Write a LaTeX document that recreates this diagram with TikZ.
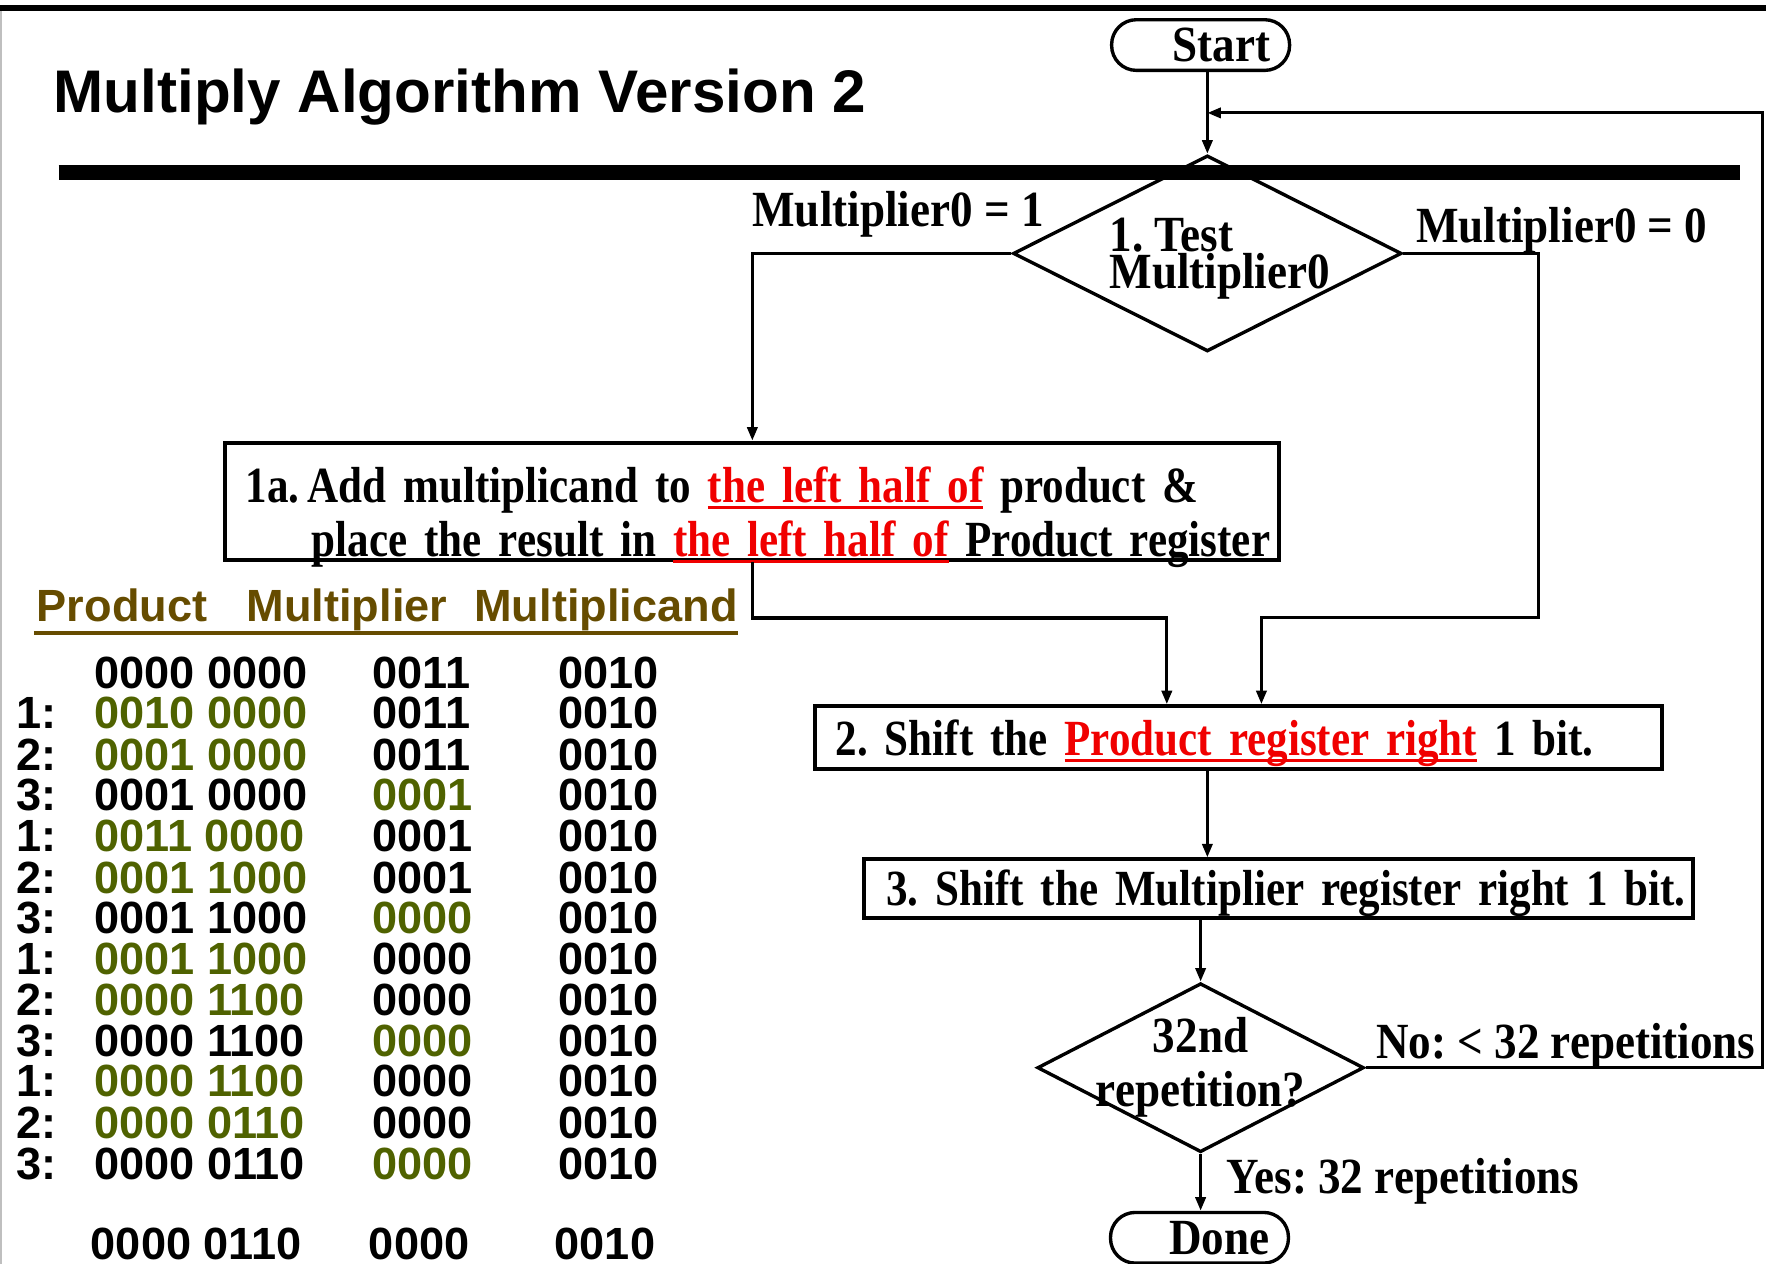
\documentclass[tikz,border=0pt]{standalone}
\usepackage{fontspec}
\setmainfont{Liberation Serif}
\newfontfamily\flowfont{Liberation Serif}[FakeStretch=0.89]
\newfontfamily\boxfont{Liberation Serif}[FakeStretch=0.85]
\newfontfamily\tabfont{Liberation Sans}
\usepackage{tikz}
\usetikzlibrary{shapes.geometric, arrows.meta, calc}
\usepackage{xcolor}
\frenchspacing

\definecolor{tabGreen}{RGB}{79,98,0}
\definecolor{hdrBrown}{RGB}{102,76,0}
\definecolor{hotRed}{RGB}{240,0,0}

\newsavebox\ulbox
\newcommand{\redul}[1]{\sbox\ulbox{#1}\textcolor{hotRed}{\rlap{\rule[-1.7pt]{\wd\ulbox}{0.85pt}}#1}}
\newcommand{\hi}[1]{\textcolor{tabGreen}{#1}}
\newcommand{\regrow}[4]{\makebox[0.69cm][l]{#1}\makebox[2.47cm][l]{#2}\makebox[1.65cm][l]{#3}#4}

\tikzset{
    font=\flowfont\bfseries\fontsize{12.8pt}{13.6pt}\selectfont,
    >={Triangle[length=0.12cm, width=0.09cm]},
    % Shapes
    term/.style={rectangle, draw, line width=0.03cm, rounded corners=0.22cm,
                 minimum height=0.45cm, text width=1.24cm, inner xsep=0.17cm, inner ysep=0pt, align=right},
    decision/.style={diamond, draw, line width=0.03cm, inner sep=0pt},
    stepbox/.style={rectangle, draw, line width=0.035cm, inner xsep=0.02cm, inner ysep=0pt, align=left,
                    font=\boxfont\bfseries\fontsize{12.8pt}{13.6pt}\selectfont},
    % Flow & Labels
    flow/.style={->, line width=0.028cm},
    lbl/.style={inner sep=0pt},
    % Table
    regfont/.style={font=\tabfont\bfseries\fontsize{11.4pt}{13pt}\selectfont},
    regline/.style={regfont, anchor=base west, inner sep=0pt}
}

\begin{document}
\begin{tikzpicture}[x=0.1mm, y=-0.1mm]
\useasboundingbox (0,0) rectangle (1568,1122);

% slide frame
\draw[line width=0.06cm] (0,7) -- (1568,7);
\draw[gray!50, line width=0.02cm] (1,10) -- (1,1122);

\node[anchor=base west, inner sep=0pt, font=\tabfont\bfseries\fontsize{15.2pt}{18pt}\selectfont] (title) at (47,100) {Multiply Algorithm Version 2};

% flowchart
\node[term] (start) at (1066,40) {Start};
\node[decision, minimum width=3.45cm, minimum height=1.74cm,
      label={[lbl, align=left, font=\flowfont\bfseries\fontsize{12.8pt}{9.4pt}\selectfont, xshift=0.11cm, yshift=-0.05cm]center:1. Test\\Multiplier0}] (test) at (1072,225) {};
\node[stepbox, text width=9.32cm, text height=0.53cm, text depth=0.51cm] (add) at (668,445)
    {\mbox{\hspace*{0.16cm}1a.\,Add multiplicand to \redul{the left half of} product \&}\\
     \mbox{\hspace*{0.75cm}place the result in \redul{the left half of} Product register}};
\node[stepbox, text width=7.48cm, text height=0.44cm, text depth=0.12cm] (shift) at (1100,655)
    {\mbox{\hspace*{0.16cm}2. Shift the \redul{Product register right} 1 bit.}};
\node[stepbox, text width=7.32cm, text height=0.41cm, text depth=0.11cm] (mshift) at (1135,789)
    {\mbox{\hspace*{0.18cm}3. Shift the Multiplier register right 1 bit.}};
\node[decision, minimum width=2.90cm, minimum height=1.50cm,
      label={[lbl, align=center]center:32nd\\repetition?}] (rep) at (1066,948) {};
\node[term] (done) at (1065,1099) {Done};

\coordinate (join) at ($(start.south -| test.north)!0.5!(test.north)$);
\coordinate (rloop) at (1565,0);

\draw[flow] (start.south -| test.north) -- (test.north);
\draw[flow] (test.west) -| (add.north)
    node[lbl, pos=0, anchor=base east, xshift=0.30cm, yshift=0.24cm] (m1) {Multiplier0 = 1};
\draw[flow] (test.east) -- ++(120,0)
    node[lbl, pos=0, anchor=base west, xshift=0.10cm, yshift=0.10cm] (m0) {Multiplier0 = 0}
    -- ++(0,323) -| ([xshift=0.2cm]shift.north);
\draw[flow] (add.south) -- ++(0,50) -| ([xshift=-0.64cm]shift.north);
\draw[flow] (shift.south -| test.north) -- (mshift.north -| test.north);
\draw[flow] (mshift.south -| rep.north) -- (rep.north);
\draw[flow] (rep.east) -| (rloop |- join)
    node[lbl, pos=0, anchor=base west, xshift=0.08cm, yshift=0.08cm] (no) {No: < 32 repetitions}
    -- (join);
\draw[flow] (rep.south) -- (rep.south |- done.north)
    node[lbl, pos=0, anchor=base west, xshift=0.22cm, yshift=-0.35cm] (yes) {Yes: 32 repetitions};

% heading rule
\draw[line width=0.13cm] (52,153) -- (1545,153);

% register trace
\node[regfont, anchor=base west, inner sep=0pt, text=hdrBrown] (hdr) at (32,552)
    {Product\hspace{0.35cm}Multiplier\hspace{0.24cm}Multiplicand};
\draw[hdrBrown, line width=0.03cm] ([xshift=-0.02cm, yshift=-0.10cm]hdr.base west) -- ([yshift=-0.10cm]hdr.base east);

\node[regline] (r0) at (14,611) {\regrow{}{0000 0000}{0011}{0010}};
\node[regline] (r1) at (14,647) {\regrow{1:}{\hi{0010 0000}}{0011}{0010}};
\node[regline] (r2) at (14,684) {\regrow{2:}{\hi{0001 0000}}{0011}{0010}};
\node[regline] (r3) at (14,720) {\regrow{3:}{0001 0000}{\hi{0001}}{0010}};
\node[regline] (r4) at (14,756) {\regrow{1:}{\hi{0011 0000}}{0001}{0010}};
\node[regline] (r5) at (14,793) {\regrow{2:}{\hi{0001 1000}}{0001}{0010}};
\node[regline] (r6) at (14,829) {\regrow{3:}{0001 1000}{\hi{0000}}{0010}};
\node[regline] (r7) at (14,865) {\regrow{1:}{\hi{0001 1000}}{0000}{0010}};
\node[regline] (r8) at (14,902) {\regrow{2:}{\hi{0000 1100}}{0000}{0010}};
\node[regline] (r9) at (14,938) {\regrow{3:}{0000 1100}{\hi{0000}}{0010}};
\node[regline] (r10) at (14,974) {\regrow{1:}{\hi{0000 1100}}{0000}{0010}};
\node[regline] (r11) at (14,1011) {\regrow{2:}{\hi{0000 0110}}{0000}{0010}};
\node[regline] (r12) at (14,1047) {\regrow{3:}{0000 0110}{\hi{0000}}{0010}};
\node[regline] (rEnd) at (11,1118) {\regrow{}{0000 0110}{0000}{0010}};

\end{tikzpicture}
\end{document}
